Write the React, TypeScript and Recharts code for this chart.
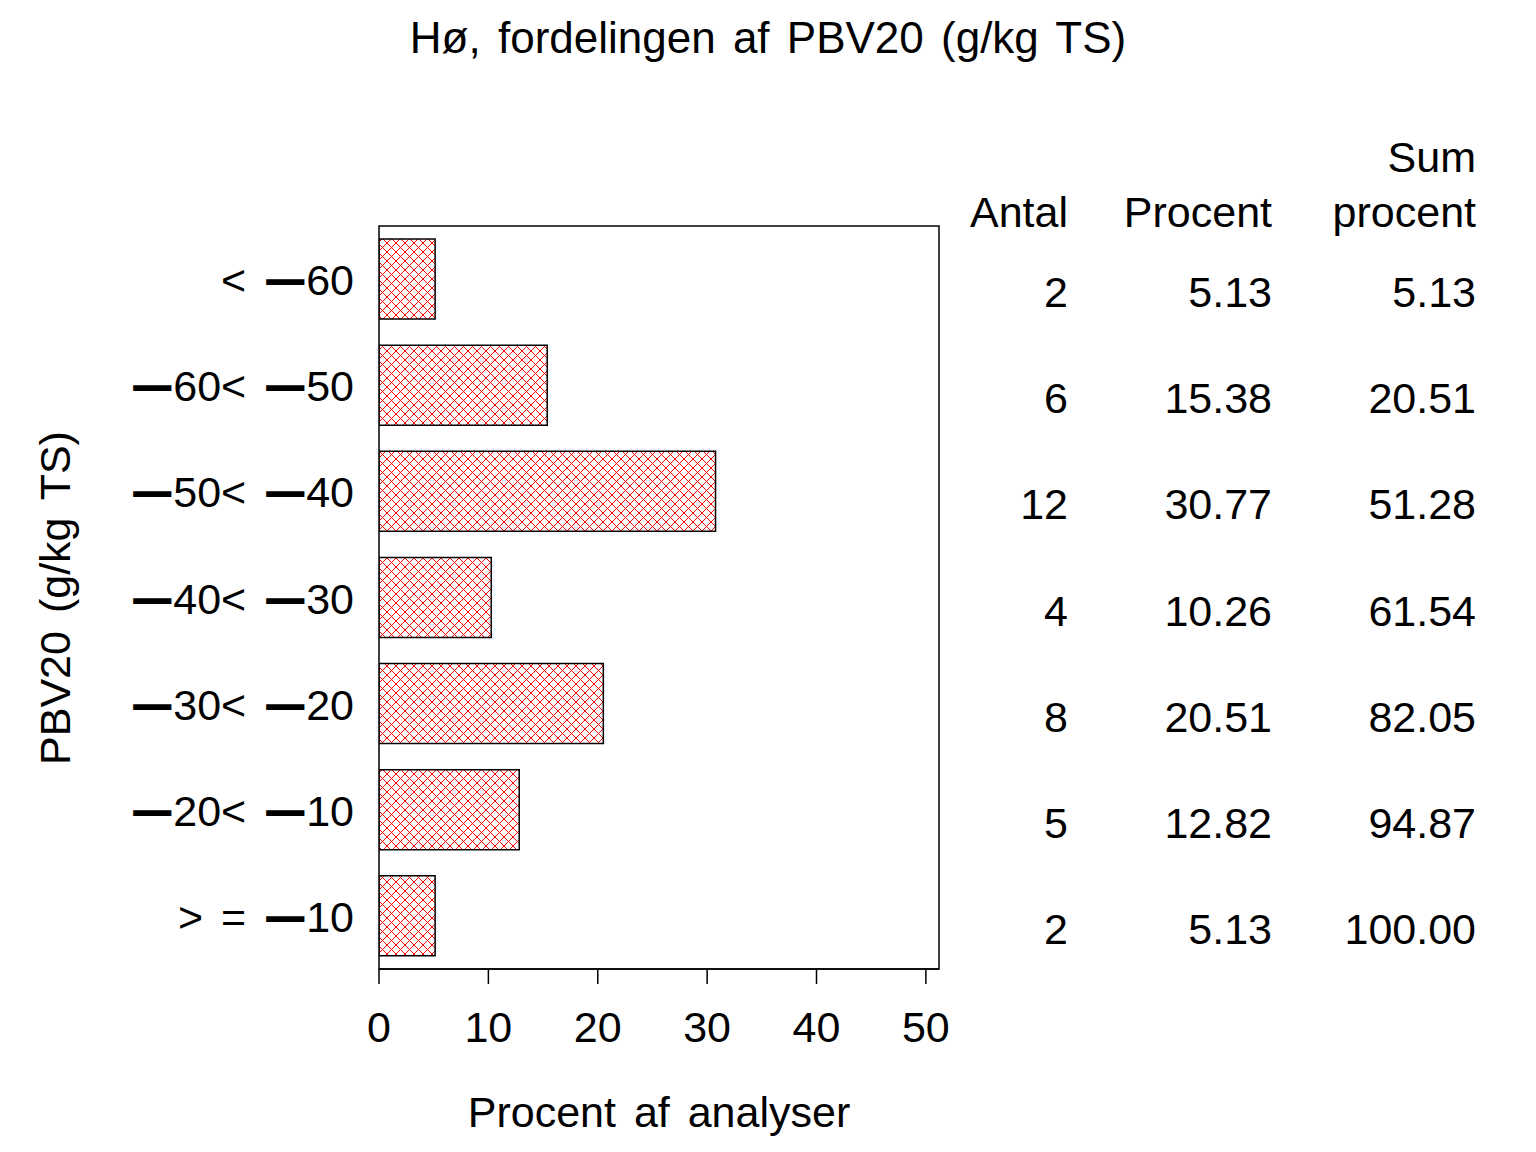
import React from "react";
import { BarChart, Bar, XAxis, YAxis, ReferenceArea } from "recharts";

// PBV20 intervals (g/kg TS); "−" is drawn as the long SAS dash
const categories = [
  "< \u221260",
  "\u221260< \u221250",
  "\u221250< \u221240",
  "\u221240< \u221230",
  "\u221230< \u221220",
  "\u221220< \u221210",
  "> = \u221210",
];
const antal = [2, 6, 12, 4, 8, 5, 2];
const procent = [5.13, 15.38, 30.77, 10.26, 20.51, 12.82, 5.13];
const sumProcent = [5.13, 20.51, 51.28, 61.54, 82.05, 94.87, 100.0];
const xTicks = [0, 10, 20, 30, 40, 50];

const X_MAX = 51.2;
const FONT = '"Liberation Sans", Arial, Helvetica, sans-serif';
const FS = 43;

const data = categories.map((c, i) => ({
  name: c,
  procent: procent[i],
}));

// right-edge x of each table column
const COLS = [1068, 1272, 1476];

function LeftTick(props: any) {
  const { y, payload } = props;
  const parts = String(payload.value).split("\u2212");
  const out: React.ReactNode[] = [];
  parts.forEach((p, i) => {
    if (i > 0) {
      out.push(
        <tspan
          key={"d" + i}
          fontWeight="bold"
          fontSize={36}
          dy={-3}
          dx={i === 1 && !parts[0] ? 0 : 3}
          stroke="#000"
          strokeWidth={2.2}
        >
          {"\u2014"}
        </tspan>
      );
      out.push(
        <tspan key={"t" + i} dy={3} dx={3}>
          {p}
        </tspan>
      );
    } else if (p) {
      out.push(<tspan key={"t" + i}>{p}</tspan>);
    }
  });
  return (
    <text
      x={354}
      y={y + 16}
      textAnchor="end"
      fontSize={FS}
      fontFamily={FONT}
      fill="#000"
      wordSpacing={6}
      xmlSpace="preserve"
    >
      {out}
    </text>
  );
}

function TableTick(props: any) {
  const { y, index } = props;
  const vals = [String(antal[index]), procent[index].toFixed(2), sumProcent[index].toFixed(2)];
  return (
    <g>
      {vals.map((v, k) => (
        <text key={k} x={COLS[k]} y={y + 28} textAnchor="end" fontSize={FS} fontFamily={FONT} fill="#000">
          {v}
        </text>
      ))}
    </g>
  );
}

function BottomTick(props: any) {
  const { x, payload } = props;
  return (
    <text x={x} y={1042} textAnchor="middle" fontSize={FS} fontFamily={FONT} fill="#000">
      {payload.value}
    </text>
  );
}

function Texts() {
  const t = { fontSize: FS, fontFamily: FONT, fill: "#000" } as const;
  return (
    <g>
      <text x={768} y={53} textAnchor="middle" {...t} fontSize={44} wordSpacing={5}>
        Hø, fordelingen af PBV20 (g/kg TS)
      </text>
      <text x={659} y={1127} textAnchor="middle" {...t} wordSpacing={6}>
        Procent af analyser
      </text>
      <text
        x={70}
        y={598}
        textAnchor="middle"
        transform="rotate(-90 70 598)"
        {...t}
        wordSpacing={6}
      >
        PBV20 (g/kg TS)
      </text>
      <text x={COLS[0]} y={227} textAnchor="end" {...t}>Antal</text>
      <text x={COLS[1]} y={227} textAnchor="end" {...t}>Procent</text>
      <text x={COLS[2]} y={172} textAnchor="end" {...t}>Sum</text>
      <text x={COLS[2]} y={227} textAnchor="end" {...t}>procent</text>
    </g>
  );
}

export default function App() {
  return (
    <div style={{ width: 1536, height: 1152, background: "#fff" }}>
      <style>{`body{margin:0;background:#fff}`}</style>
      <BarChart
        width={1536}
        height={1152}
        data={data}
        layout="vertical"
        margin={{ top: 226, right: 0, bottom: 0, left: 0 }}
        barCategoryGap={13}
      >
        <defs>
          <pattern id="hatch" width="9" height="9" patternUnits="userSpaceOnUse">
            <path d="M0,0 L9,9 M9,0 L0,9" stroke="#ff0000" strokeWidth={1} />
          </pattern>
        </defs>
        <XAxis
          type="number"
          domain={[0, X_MAX]}
          ticks={xTicks}
          height={183}
          tickSize={15}
          tickLine={{ stroke: "#000", strokeWidth: 1.5 }}
          axisLine={{ stroke: "#000", strokeWidth: 1.5 }}
          tick={<BottomTick />}
          allowDataOverflow
        />
        <YAxis
          yAxisId={0}
          type="category"
          dataKey="name"
          width={379}
          axisLine={false}
          tickLine={false}
          tick={<LeftTick />}
        />
        <YAxis
          yAxisId="table"
          orientation="right"
          type="category"
          dataKey="name"
          width={597}
          axisLine={false}
          tickLine={false}
          tick={<TableTick />}
        />
        <ReferenceArea
          x1={0}
          x2={X_MAX}
          fill="none"
          stroke="#000"
          strokeWidth={1.5}
          ifOverflow="visible"
        />
        <Bar
          dataKey="procent"
          fill="url(#hatch)"
          stroke="#000"
          strokeWidth={1.5}
          isAnimationActive={false}
        />
        <Texts />
      </BarChart>
    </div>
  );
}
